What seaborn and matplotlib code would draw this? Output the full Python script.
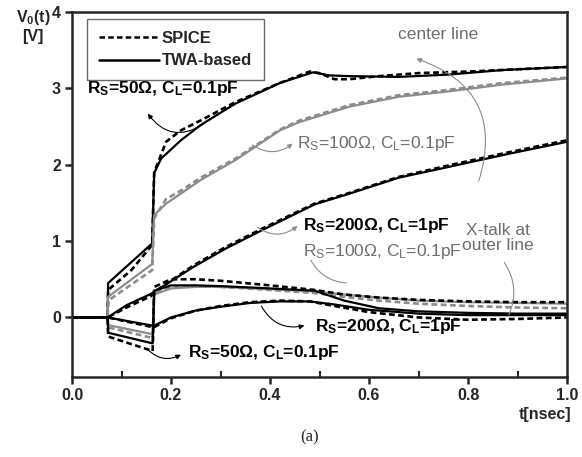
import numpy as np
import pandas as pd
import matplotlib
matplotlib.use("Agg")
import matplotlib.pyplot as plt
import seaborn as sns
from matplotlib.lines import Line2D

sns.set_style("ticks")
plt.rcParams['font.family'] = ['Liberation Sans', 'DejaVu Sans']
plt.rcParams['mathtext.default'] = 'regular'

# ---------------- data ----------------
# centre line, Rs=50 ohm, CL=0.1pF
t_c50_twa = [0, 0.072, 0.073, 0.162, 0.166, 0.18, 0.22, 0.26, 0.33, 0.42, 0.487, 0.52, 0.56, 0.66, 0.76, 0.87, 1.0]
v_c50_twa = [0, 0, 0.45, 0.97, 1.89, 2.08, 2.32, 2.52, 2.80, 3.07, 3.21, 3.17, 3.16, 3.15, 3.18, 3.24, 3.28]
t_c50_sp = [0, 0.072, 0.073, 0.12, 0.162, 0.166, 0.19, 0.22, 0.26, 0.33, 0.42, 0.48, 0.50, 0.53, 0.56, 0.62, 0.70, 0.80, 0.90, 1.0]
v_c50_sp = [0, 0, 0.36, 0.62, 0.95, 1.90, 2.30, 2.45, 2.58, 2.82, 3.07, 3.22, 3.20, 3.12, 3.12, 3.16, 3.20, 3.22, 3.25, 3.28]

# centre line, Rs=100 ohm, CL=0.1pF
t_c100_twa = [0, 0.072, 0.073, 0.162, 0.166, 0.19, 0.26, 0.33, 0.42, 0.46, 0.56, 0.66, 0.76, 0.87, 1.0]
v_c100_twa = [0, 0, 0.27, 0.70, 1.34, 1.49, 1.80, 2.06, 2.45, 2.56, 2.76, 2.89, 2.96, 3.05, 3.13]
t_c100_sp = [0, 0.072, 0.073, 0.162, 0.166, 0.19, 0.225, 0.26, 0.33, 0.42, 0.46, 0.56, 0.66, 0.76, 0.87, 1.0]
v_c100_sp = [0, 0, 0.22, 0.62, 1.30, 1.55, 1.68, 1.83, 2.08, 2.46, 2.58, 2.78, 2.91, 2.98, 3.07, 3.14]

# centre line, Rs=200 ohm, CL=1pF
t_c200_twa = [0, 0.072, 0.11, 0.16, 0.17, 0.245, 0.31, 0.38, 0.49, 0.56, 0.66, 0.76, 0.88, 1.0]
v_c200_twa = [0, 0, 0.16, 0.31, 0.35, 0.66, 0.90, 1.13, 1.48, 1.62, 1.83, 1.97, 2.14, 2.30]
t_c200_sp = [0, 0.072, 0.11, 0.16, 0.17, 0.245, 0.31, 0.38, 0.49, 0.56, 0.66, 0.76, 0.88, 1.0]
v_c200_sp = [0, 0, 0.13, 0.28, 0.35, 0.68, 0.92, 1.15, 1.49, 1.63, 1.84, 1.99, 2.16, 2.32]

# crosstalk at outer line, Rs=50 ohm, CL=0.1pF
t_x50_twa = [0, 0.072, 0.073, 0.163, 0.166, 0.20, 0.25, 0.30, 0.40, 0.49, 0.55, 0.62, 0.70, 0.80, 0.90, 1.0]
v_x50_twa = [0, 0, -0.20, -0.34, 0.35, 0.42, 0.42, 0.41, 0.38, 0.35, 0.22, 0.12, 0.08, 0.06, 0.05, 0.05]
t_x50_sp = [0, 0.072, 0.073, 0.163, 0.166, 0.20, 0.25, 0.30, 0.40, 0.49, 0.55, 0.62, 0.70, 0.80, 0.90, 1.0]
v_x50_sp = [0, 0, -0.25, -0.44, 0.40, 0.50, 0.50, 0.48, 0.42, 0.36, 0.30, 0.26, 0.23, 0.21, 0.20, 0.20]

# crosstalk at outer line, Rs=100 ohm, CL=0.1pF
t_x100_twa = [0, 0.072, 0.073, 0.163, 0.166, 0.20, 0.25, 0.30, 0.40, 0.49, 0.55, 0.62, 0.70, 0.80, 0.90, 1.0]
v_x100_twa = [0, 0, -0.10, -0.22, 0.30, 0.38, 0.40, 0.40, 0.37, 0.34, 0.30, 0.26, 0.22, 0.20, 0.19, 0.18]
t_x100_sp = [0, 0.072, 0.073, 0.163, 0.166, 0.20, 0.25, 0.30, 0.40, 0.49, 0.55, 0.62, 0.70, 0.80, 0.90, 1.0]
v_x100_sp = [0, 0, -0.13, -0.27, 0.32, 0.40, 0.41, 0.40, 0.36, 0.32, 0.27, 0.22, 0.18, 0.15, 0.13, 0.12]

# crosstalk at outer line, Rs=200 ohm, CL=1pF
t_x200_twa = [0, 0.072, 0.165, 0.20, 0.25, 0.30, 0.36, 0.42, 0.48, 0.53, 0.60, 0.70, 0.80, 0.90, 1.0]
v_x200_twa = [0, 0, -0.11, 0.00, 0.09, 0.14, 0.19, 0.21, 0.21, 0.17, 0.10, 0.05, 0.03, 0.03, 0.03]
t_x200_sp = [0, 0.072, 0.165, 0.20, 0.25, 0.30, 0.36, 0.42, 0.48, 0.53, 0.60, 0.70, 0.80, 0.90, 1.0]
v_x200_sp = [0, 0, -0.13, -0.01, 0.09, 0.15, 0.20, 0.22, 0.21, 0.15, 0.07, 0.00, -0.03, -0.02, 0.00]

x_ticks = [0.0, 0.2, 0.4, 0.6, 0.8, 1.0]
y_ticks = [0, 1, 2, 3, 4]

BLACK = '#000000'
GRAY = '#8c8c8c'
GRAY_TXT = '#6e6e6e'

series = [
    (t_c50_sp, v_c50_sp, BLACK, 'SPICE'),
    (t_c50_twa, v_c50_twa, BLACK, 'TWA'),
    (t_c100_sp, v_c100_sp, GRAY, 'SPICE'),
    (t_c100_twa, v_c100_twa, GRAY, 'TWA'),
    (t_c200_sp, v_c200_sp, BLACK, 'SPICE'),
    (t_c200_twa, v_c200_twa, BLACK, 'TWA'),
    (t_x100_sp, v_x100_sp, GRAY, 'SPICE'),
    (t_x100_twa, v_x100_twa, GRAY, 'TWA'),
    (t_x50_sp, v_x50_sp, BLACK, 'SPICE'),
    (t_x50_twa, v_x50_twa, BLACK, 'TWA'),
    (t_x200_sp, v_x200_sp, BLACK, 'SPICE'),
    (t_x200_twa, v_x200_twa, BLACK, 'TWA'),
]

fig = plt.figure(figsize=(5.82, 4.57), dpi=100)
ax = fig.add_axes([72/582, 1-377/457, 495/582, 365/457])

for t, v, col, kind in series:
    df = pd.DataFrame({'t': t, 'v': v})
    line = sns.lineplot(data=df, x='t', y='v', ax=ax, color=col, sort=False,
                        estimator=None, lw=1.6 if kind == 'TWA' else 1.9)
    l = ax.lines[-1]
    if kind == 'SPICE':
        l.set_dashes((2.2, 1.3))
    l.set_solid_joinstyle('round')

ax.set_xlim(0, 1.0)
ax.set_ylim(-0.78, 4)
ax.set_xticks(x_ticks)
ax.set_xticklabels([f'{x:.1f}' for x in x_ticks])
ax.set_xticks([0.1, 0.3, 0.5, 0.7, 0.9], minor=True)
ax.set_yticks(y_ticks)
ax.set_yticklabels([str(y) for y in y_ticks])
ax.set_xlabel('')
ax.set_ylabel('')
for s in ax.spines.values():
    s.set_linewidth(1.8)
    s.set_visible(True)
ax.tick_params(axis='both', which='major', direction='out', length=5, width=1.8,
               labelsize=11.5, pad=3)
ax.tick_params(axis='x', which='minor', direction='in', length=4, width=1.5)
for lab in ax.get_xticklabels() + ax.get_yticklabels():
    lab.set_fontweight('bold')

# legend
handles = [Line2D([], [], color=BLACK, lw=1.8, dashes=(2.2, 1.3)),
           Line2D([], [], color=BLACK, lw=1.8)]
leg = ax.legend(handles, ['SPICE', 'TWA-based'], loc='upper left',
                bbox_to_anchor=(0.03, 0.98), borderaxespad=0, frameon=True,
                fancybox=False, edgecolor='#444444', handlelength=3.6,
                handletextpad=0.2, borderpad=0.7, labelspacing=0.45,
                prop={'weight': 'bold', 'size': 12})
leg.get_frame().set_linewidth(1.0)

# axis labels
fig.text(33/582, 1-26/457, 'V$_\\mathregular{0}$(t)\n[V]', ha='center', va='center',
         fontsize=11.5, fontweight='bold', linespacing=1.1)
fig.text(571/582, 1-415/457, 't[nsec]', ha='right', va='center', fontsize=11.5,
         fontweight='bold')
fig.text(310/582, 1-437/457, '(a)', ha='center', va='center', fontsize=12,
         family='Liberation Serif')

# annotations
bold_kw = dict(fontsize=12.5, fontweight='bold', color=BLACK, va='center', ha='left')
gray_kw = dict(fontsize=12.5, color=GRAY_TXT, va='center', ha='left')

ax.text(0.031, 3.0, 'R$_\\mathregular{S}$=50Ω, C$_\\mathregular{L}$=0.1pF', **bold_kw)
ax.text(0.455, 2.28, 'R$_\\mathregular{S}$=100Ω, C$_\\mathregular{L}$=0.1pF', **gray_kw)
ax.text(0.467, 1.20, 'R$_\\mathregular{S}$=200Ω, C$_\\mathregular{L}$=1pF', **bold_kw)
ax.text(0.467, 0.86, 'R$_\\mathregular{S}$=100Ω, C$_\\mathregular{L}$=0.1pF', **gray_kw)
ax.text(0.49, -0.12, 'R$_\\mathregular{S}$=200Ω, C$_\\mathregular{L}$=1pF', **bold_kw)
ax.text(0.234, -0.46, 'R$_\\mathregular{S}$=50Ω, C$_\\mathregular{L}$=0.1pF', **bold_kw)
ax.text(0.74, 3.7, 'center line', fontsize=12.5, color=GRAY_TXT, ha='center', va='center')
ax.text(0.86, 1.04, 'X-talk at\nouter line', fontsize=12.5, color=GRAY_TXT,
        ha='center', va='center', linespacing=1.05)

arrow_k = dict(arrowstyle='-|>', lw=0.8, mutation_scale=7)
ax.annotate('', xy=(0.15, 2.7), xytext=(0.27, 2.55),
            arrowprops=dict(color=BLACK, connectionstyle='arc3,rad=-0.5', **arrow_k))
ax.annotate('', xy=(0.45, 2.3), xytext=(0.36, 2.28),
            arrowprops=dict(color=GRAY, connectionstyle='arc3,rad=0.4', **arrow_k))
ax.annotate('', xy=(0.46, 1.22), xytext=(0.37, 1.2),
            arrowprops=dict(color=GRAY, connectionstyle='arc3,rad=0.4', **arrow_k))
ax.annotate('', xy=(0.48, 0.78), xytext=(0.56, 0.45),
            arrowprops=dict(color=GRAY, connectionstyle='arc3,rad=-0.3', arrowstyle='-', lw=0.8))
ax.annotate('', xy=(0.475, -0.1), xytext=(0.38, 0.18),
            arrowprops=dict(color=BLACK, connectionstyle='arc3,rad=0.4', **arrow_k))
ax.annotate('', xy=(0.225, -0.47), xytext=(0.15, -0.4),
            arrowprops=dict(color=BLACK, connectionstyle='arc3,rad=0.4', **arrow_k))
ax.annotate('', xy=(0.69, 3.4), xytext=(0.82, 1.75),
            arrowprops=dict(color=GRAY, connectionstyle='arc3,rad=0.5', **arrow_k))
ax.annotate('', xy=(0.87, 0.75), xytext=(0.88, 0.0),
            arrowprops=dict(color=GRAY, connectionstyle='arc3,rad=0.3', arrowstyle='-', lw=0.8))

fig.savefig('out.png', dpi=100)
